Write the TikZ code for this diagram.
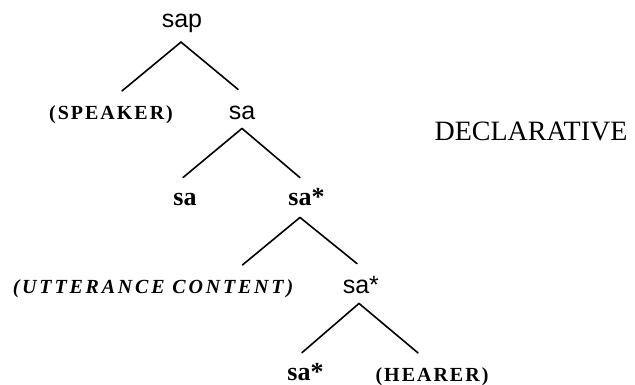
\documentclass[tikz,border=0pt]{standalone}
\usepackage{fontspec}
\setmainfont{Liberation Serif}
\newfontfamily\arialfam{Liberation Sans}
\newfontfamily\trackfam[LetterSpace=10]{Liberation Serif}
\newfontfamily\widetrackfam[LetterSpace=14]{Liberation Serif}

\tikzset{
  lbl/.style={inner sep=0pt, anchor=base},
  plainlbl/.style={lbl, font=\arialfam\fontsize{25}{27}\selectfont},
  boldlbl/.style={lbl, font=\fontsize{26}{28}\selectfont\bfseries},
  taglbl/.style={lbl, font=\trackfam\fontsize{20}{22}\selectfont\bfseries},
  uttlbl/.style={lbl, font=\widetrackfam\fontsize{20}{22}\selectfont\bfseries\itshape},
  moodlbl/.style={lbl, font=\fontsize{28}{30}\selectfont},
  branch/.style={line width=1.6pt, line cap=round},
}

\begin{document}
\begin{tikzpicture}[x=1pt,y=-1pt]
  \useasboundingbox (0,0) rectangle (635,385);

  % labels, row by row
  \node[plainlbl] (sap) at (182,28) {sap};
  \node[taglbl] (speaker) at (111,120) {(SPEAKER)};
  \node[plainlbl] (sa1) at (242,120) {sa};
  \node[moodlbl] (mood) at (531,141) {DECLARATIVE};
  \node[boldlbl] (sa2) at (185,205) {sa};
  \node[boldlbl] (sastar1) at (300,205) {sa\rlap{*}};
  \node[uttlbl] (utt) at (153,293) {(UTTERANCE CONTENT)};
  \node[plainlbl] (sastar2) at (356,293) {sa\rlap{*}};
  \node[boldlbl] (sastar3) at (299,380) {sa\rlap{*}};
  \node[taglbl] (hearer) at (432,381) {(HEARER)};

  % branches: parent/child/parent shift/child shift
  \foreach \pa/\ch/\px/\py/\cx/\cy in {
      sap/speaker/-1/-8.7/11/15, sap/sa1/-1/-8.7/-4/17,
      sa1/sa2/0/-8/-2/15, sa1/sastar1/0/-8/0/10,
      sastar1/utt/0/-12/89.5/14, sastar1/sastar2/0/-12/1/12,
      sastar2/sastar3/3/-10/3/10, sastar2/hearer/3/-10/-14/14} {
    \draw[branch] ([xshift=\px pt,yshift=\py pt]\pa.south) -- ([xshift=\cx pt,yshift=\cy pt]\ch.north);
  }
\end{tikzpicture}
\end{document}
